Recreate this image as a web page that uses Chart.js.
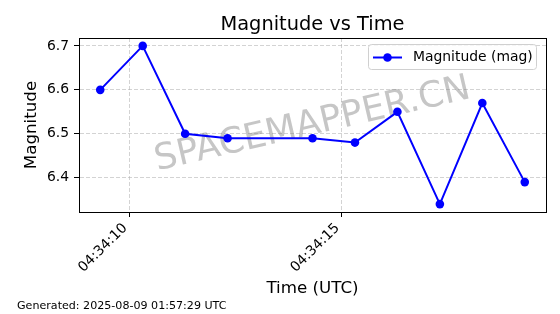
<!DOCTYPE html>
<html><head><meta charset="utf-8">
<script src="https://cdn.jsdelivr.net/npm/chart.js@4"></script>
<style>html,body{margin:0;padding:0;background:#fff;}#wrap{width:560px;height:314px;position:relative;}</style>
</head><body><div id="wrap"><canvas id="c" width="560" height="314"></canvas></div>
<script>
// ---- data ----
const seconds = [9.32, 10.32, 11.32, 12.32, 14.32, 15.32, 16.32, 17.32, 18.32, 19.32]; // seconds after 04:34:00 UTC
const magnitudes = [6.60, 6.70, 6.50, 6.49, 6.49, 6.48, 6.55, 6.34, 6.57, 6.39];
const timePrefix = '04:34:';
const xTickValues = [10, 15];
const yTickValues = [6.4, 6.5, 6.6, 6.7];
const seriesLabel = 'Magnitude (mag)';
const titleText = 'Magnitude vs Time';
const xTitle = 'Time (UTC)';
const yTitle = 'Magnitude';
const footerText = 'Generated: 2025-08-09 01:57:29 UTC';
const watermarkText = 'SPACEMAPPER.CN';

const FONT = '"DejaVu Sans", sans-serif';
const BLUE = '#0000ff';

function padLimits(arr, frac) {
  const lo = Math.min(...arr), hi = Math.max(...arr), r = hi - lo;
  return [lo - r * frac, hi + r * frac];
}
const [xMin, xMax] = padLimits(seconds, 0.05);
const [yMin, yMax] = padLimits(magnitudes, 0.05);

const decor = {
  id: 'decor',
  beforeDatasetsDraw(chart) {
    const {ctx, chartArea: a} = chart;
    ctx.save();
    ctx.beginPath(); ctx.rect(a.left, a.top, a.right - a.left, a.bottom - a.top); ctx.clip();
    ctx.translate((a.left + a.right) / 2, (a.top + a.bottom) / 2);
    ctx.rotate(-13 * Math.PI / 180);
    ctx.font = '36px ' + FONT;
    ctx.fillStyle = 'rgba(128,128,128,0.45)';
    ctx.textAlign = 'center'; ctx.textBaseline = 'middle';
    ctx.fillText(watermarkText, 0, 0);
    ctx.restore();
  },
  afterDraw(chart) {
    const {ctx, chartArea: a} = chart;
    ctx.save();
    // frame
    ctx.strokeStyle = '#000'; ctx.lineWidth = 1;
    ctx.strokeRect(Math.round(a.left) + 0.5, Math.round(a.top) + 0.5, Math.round(a.right - a.left), Math.round(a.bottom - a.top));
    // title
    ctx.fillStyle = '#000';
    ctx.font = '19.4px ' + FONT;
    ctx.textAlign = 'center'; ctx.textBaseline = 'alphabetic';
    ctx.fillText(titleText, (a.left + a.right) / 2, 30);
    // footer
    ctx.font = '11.1px ' + FONT;
    ctx.textAlign = 'left';
    ctx.fillText(footerText, 17, 309);
    // legend
    const bx = 368.5, by = 44.5, bw = 168, bh = 25, r = 3;
    ctx.beginPath();
    ctx.moveTo(bx + r, by); ctx.lineTo(bx + bw - r, by); ctx.quadraticCurveTo(bx + bw, by, bx + bw, by + r);
    ctx.lineTo(bx + bw, by + bh - r); ctx.quadraticCurveTo(bx + bw, by + bh, bx + bw - r, by + bh);
    ctx.lineTo(bx + r, by + bh); ctx.quadraticCurveTo(bx, by + bh, bx, by + bh - r);
    ctx.lineTo(bx, by + r); ctx.quadraticCurveTo(bx, by, bx + r, by); ctx.closePath();
    ctx.fillStyle = 'rgba(255,255,255,0.8)'; ctx.fill();
    ctx.strokeStyle = '#d0d0d0'; ctx.lineWidth = 1; ctx.stroke();
    const ly = 57.5;
    ctx.strokeStyle = BLUE; ctx.lineWidth = 2;
    ctx.beginPath(); ctx.moveTo(373, ly); ctx.lineTo(402, ly); ctx.stroke();
    ctx.fillStyle = BLUE; ctx.beginPath(); ctx.arc(387.5, ly, 4.3, 0, Math.PI * 2); ctx.fill();
    ctx.fillStyle = '#000'; ctx.font = '13.9px ' + FONT; ctx.textBaseline = 'middle';
    ctx.fillText(chart.data.datasets[0].label, 413, ly);
    ctx.restore();
  }
};

new Chart(document.getElementById('c'), {
  type: 'line',
  data: {
    datasets: [{
      label: seriesLabel,
      data: seconds.map((s, i) => ({x: s, y: magnitudes[i]})),
      borderColor: BLUE, backgroundColor: BLUE,
      borderWidth: 2, pointRadius: 4.3, pointHoverRadius: 4.3, pointBorderWidth: 0,
      tension: 0, clip: false
    }]
  },
  options: {
    responsive: false, animation: false, devicePixelRatio: 1,
    layout: {padding: {top: 38, right: 14, left: 0, bottom: 0}},
    plugins: {legend: {display: false}, title: {display: false}, tooltip: {enabled: false}},
    events: [],
    scales: {
      x: {
        type: 'linear', min: xMin, max: xMax,
        afterBuildTicks: s => { s.ticks = xTickValues.map(v => ({value: v})); },
        afterFit: s => { s.height = 102; },
        ticks: {
          callback: v => timePrefix + String(v).padStart(2, '0'),
          minRotation: 45, maxRotation: 45, autoSkip: false, labelOffset: -4,
          font: {family: FONT, size: 13.9}, color: '#000', padding: 3
        },
        grid: {color: 'rgba(176,176,176,0.7)', lineWidth: 0.8, drawTicks: true, tickLength: 5, tickColor: '#000', tickWidth: 1},
        border: {display: true, color: '#000', width: 1, dash: [4, 2]},
        title: {display: true, text: xTitle, color: '#000', font: {family: FONT, size: 16.7}, padding: {top: 0, bottom: 15.8}}
      },
      y: {
        type: 'linear', min: yMin, max: yMax,
        afterBuildTicks: s => { s.ticks = yTickValues.map(v => ({value: v})); },
        afterFit: s => { s.width = 79; },
        ticks: {callback: v => v.toFixed(1), font: {family: FONT, size: 13.9}, color: '#000', padding: 5},
        grid: {color: 'rgba(176,176,176,0.7)', lineWidth: 0.8, drawTicks: true, tickLength: 5, tickColor: '#000', tickWidth: 1},
        border: {display: true, color: '#000', width: 1, dash: [4, 2]},
        title: {display: true, text: yTitle, color: '#000', font: {family: FONT, size: 16.7}, padding: {top: 21.5, bottom: 0}}
      }
    }
  },
  plugins: [decor]
});
</script></body></html>
